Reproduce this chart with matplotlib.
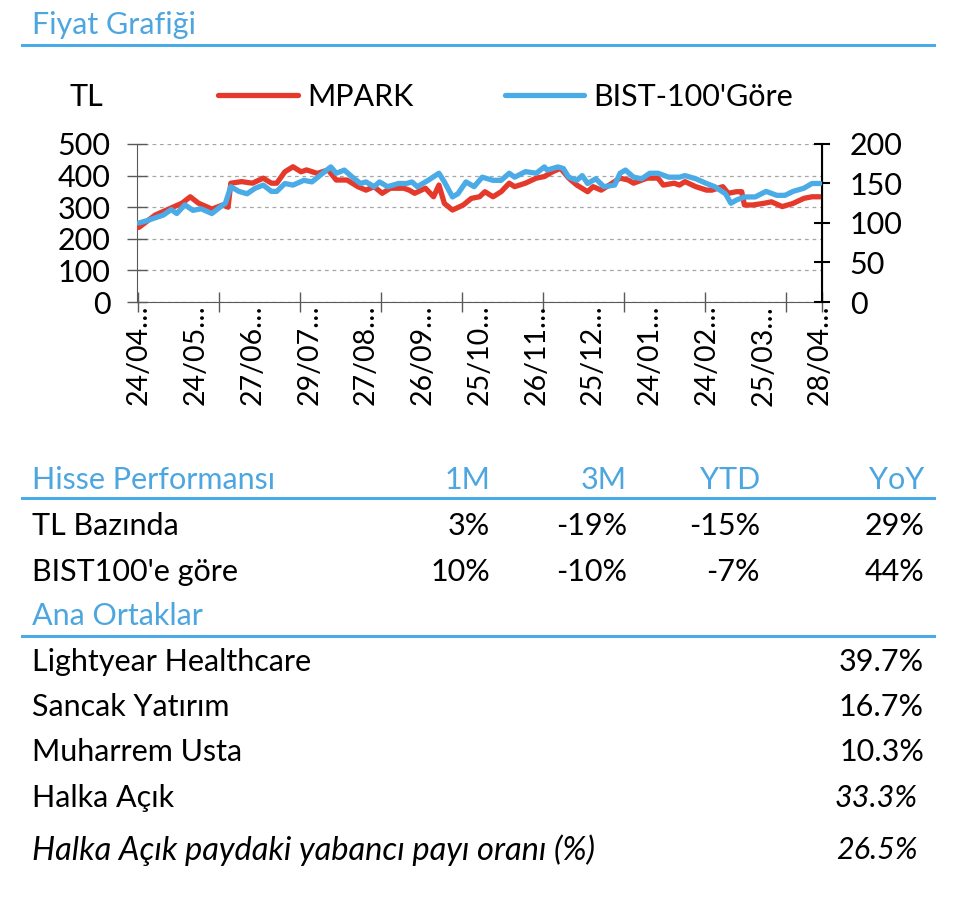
import matplotlib
matplotlib.use("Agg")
import matplotlib.pyplot as plt
from matplotlib.ticker import FixedLocator, NullFormatter, FixedFormatter

plt.rcParams['font.family'] = ['Lato', 'DejaVu Sans']

# ---------------- data ----------------
n_days = 253
label_idx = [0, 21, 42, 63, 84, 105, 126, 147, 168, 189, 210, 231, 252]
tick_labels = ["24/04…", "24/05…", "27/06…", "29/07…", "27/08…", "26/09…", "25/10…",
               "26/11…", "25/12…", "24/01…", "24/02…", "25/03…", "28/04…"]

mpark_idx = [0, 6, 11, 16, 19, 22, 27, 31, 33, 34, 38, 42, 46, 49, 51, 54, 57, 60, 62, 66,
             70, 73, 77, 81, 84, 87, 90, 93, 98, 100, 102, 106, 109, 111, 113, 116, 120, 123,
             126, 128, 131, 134, 137, 139, 143, 147, 150, 153, 156, 159, 162, 166, 168, 171,
             174, 178, 181, 183, 188, 192, 194, 198, 200, 202, 206, 210, 212, 216, 218, 221,
             223, 224, 227, 231, 234, 238, 242, 246, 249, 252]
mpark_val = [236, 275, 294, 313, 333, 313, 294, 307, 300, 376, 381, 376, 392, 376, 376, 412,
             428, 412, 418, 407, 418, 386, 386, 365, 354, 365, 344, 360, 360, 354, 344, 360,
             333, 370, 312, 291, 307, 328, 333, 349, 333, 349, 376, 365, 376, 392, 397, 412,
             423, 392, 370, 349, 365, 354, 370, 392, 386, 376, 392, 392, 370, 376, 370, 381,
             365, 354, 354, 365, 344, 349, 349, 307, 307, 312, 317, 302, 312, 328, 333, 333]

bist_idx = [0, 3, 9, 12, 14, 17, 20, 23, 27, 30, 32, 34, 37, 40, 43, 46, 49, 51, 54, 57, 61,
            64, 68, 71, 73, 76, 79, 82, 84, 87, 89, 92, 96, 99, 101, 103, 107, 111, 113, 116,
            118, 121, 124, 127, 131, 134, 137, 139, 143, 147, 150, 151, 155, 157, 159, 162,
            164, 166, 169, 172, 176, 178, 180, 183, 186, 189, 192, 196, 200, 202, 206, 210,
            213, 217, 219, 221, 224, 228, 232, 236, 239, 242, 246, 249, 252]
bist_val = [100, 103, 110, 117, 112, 123, 116, 118, 112, 120, 125, 146, 140, 137, 144, 148,
            140, 140, 150, 148, 154, 152, 163, 171, 163, 167, 158, 150, 152, 146, 152, 146,
            150, 150, 152, 146, 154, 163, 152, 133, 137, 152, 146, 158, 154, 154, 163, 158,
            165, 163, 171, 167, 171, 169, 158, 154, 160, 150, 156, 146, 148, 163, 167, 158,
            156, 163, 163, 158, 158, 160, 156, 150, 146, 137, 125, 129, 133, 133, 140, 135,
            135, 140, 144, 150, 150]

perf_cols = ["1M", "3M", "YTD", "YoY"]
perf_rows = ["TL Bazında", "BIST100'e göre"]
perf_vals = [["3%", "-19%", "-15%", "29%"],
             ["10%", "-10%", "-7%", "44%"]]
holders = ["Lightyear Healthcare", "Sancak Yatırım", "Muharrem Usta", "Halka Açık",
           "Halka Açık paydaki yabancı payı oranı (%)"]
holder_vals = ["39.7%", "16.7%", "10.3%", "33.3%", "26.5%"]

# ---------------- style ----------------
RED = '#E5392B'
BLUE = '#4BABE6'
TBLUE = '#4DA6DF'
FS = 22

W, H = 960, 897
fig = plt.figure(figsize=(W / 100, H / 100), dpi=100)


def fx(x):
    return x / W


def fy(y):
    return 1 - y / H


def hline(y, x0=22, x1=934):
    fig.add_artist(plt.Line2D([fx(x0), fx(x1)], [fy(y), fy(y)], color=BLUE, lw=2.2,
                              transform=fig.transFigure))


# title
fig.text(fx(32), fy(25), "Fiyat Grafiği", color=TBLUE, fontsize=FS, va='center', ha='left')
hline(45)

# chart axes
ax_l, ax_r, ax_t, ax_b = 137, 822, 144, 302
ax = fig.add_axes([fx(ax_l), fy(ax_b), (ax_r - ax_l) / W, (ax_b - ax_t) / H])
ax2 = ax.twinx()

l1, = ax.plot(mpark_idx, mpark_val, color=RED, lw=3.8, solid_capstyle='round',
              solid_joinstyle='round', zorder=3)
l2, = ax2.plot(bist_idx, bist_val, color=BLUE, lw=3.8, solid_capstyle='round',
               solid_joinstyle='round', zorder=4)

ax.set_xlim(-0.7, n_days - 1 + 0.7)
ax.set_ylim(0, 500)
ax2.set_ylim(0, 200)
ax.set_yticks([0, 100, 200, 300, 400, 500])
ax2.set_yticks([0, 50, 100, 150, 200])
ax.yaxis.grid(True, linestyle=(0, (3, 3)), color='#A6A6A6', lw=0.9)
ax.set_axisbelow(True)

ax.xaxis.set_major_locator(FixedLocator([i - 0.5 for i in range(0, n_days, 30)] + [n_days - 0.3]))
ax.xaxis.set_major_formatter(NullFormatter())
ax.xaxis.set_minor_locator(FixedLocator(label_idx))
ax.xaxis.set_minor_formatter(FixedFormatter(tick_labels))
ax.tick_params(axis='x', which='major', direction='inout', length=14, width=1, color='#595959')
ax.tick_params(axis='x', which='minor', length=0, pad=2, labelsize=20.5, labelrotation=90)
for t in ax.xaxis.get_minorticklabels():
    t.set_va('top')
    t.set_ha('center')

ax.tick_params(axis='y', direction='inout', length=14, width=1, color='#595959',
               labelsize=FS, pad=12)
ax2.tick_params(axis='y', direction='inout', length=12, width=1.5, color='#000000',
                labelsize=FS, pad=14)

for a in (ax, ax2):
    a.spines['top'].set_visible(False)
ax.spines['left'].set_color('#595959')
ax.spines['bottom'].set_color('#595959')
ax2.spines['right'].set_color('#000000')
ax2.spines['right'].set_linewidth(1.5)
ax2.spines['left'].set_visible(False)
ax2.spines['bottom'].set_visible(False)

fig.text(fx(70), fy(97), "TL", fontsize=FS, va='center', ha='left')
fig.legend([l1, l2], ["MPARK", "BIST-100'Göre"], loc='center left',
           bbox_to_anchor=(fx(206), fy(97)), ncol=2, frameon=False, fontsize=FS,
           handlelength=2.6, handletextpad=0.3, columnspacing=3.0, borderaxespad=0)

# performance table
col_x = [490, 627, 760, 924]
fig.text(fx(32), fy(480), "Hisse Performansı", color=TBLUE, fontsize=FS, va='center')
for cx, c in zip(col_x, perf_cols):
    fig.text(fx(cx), fy(480), c, color=TBLUE, fontsize=FS, va='center', ha='right')
hline(498)
row_y = [526, 572]
for ry, rname, vals in zip(row_y, perf_rows, perf_vals):
    fig.text(fx(32), fy(ry), rname, fontsize=FS, va='center')
    for cx, v in zip(col_x, vals):
        fig.text(fx(cx), fy(ry), v, fontsize=FS, va='center', ha='right')

# shareholders
fig.text(fx(32), fy(616), "Ana Ortaklar", color=TBLUE, fontsize=FS, va='center')
hline(636)
h_y = [662, 707, 752, 798, 850]
h_style = ['normal', 'normal', 'normal', 'normal', 'italic']
h_size = [FS, FS, FS, FS, 23.5]
v_style = ['normal', 'normal', 'normal', 'italic', 'italic']
v_x = [924, 924, 924, 918, 918]
for hy, name, val, hs, hsz, vs, vx in zip(h_y, holders, holder_vals, h_style, h_size,
                                           v_style, v_x):
    fig.text(fx(32), fy(hy), name, fontsize=hsz, va='center', style=hs)
    fig.text(fx(vx), fy(hy), val, fontsize=FS, va='center', ha='right', style=vs)

fig.savefig("out.png", dpi=100)
